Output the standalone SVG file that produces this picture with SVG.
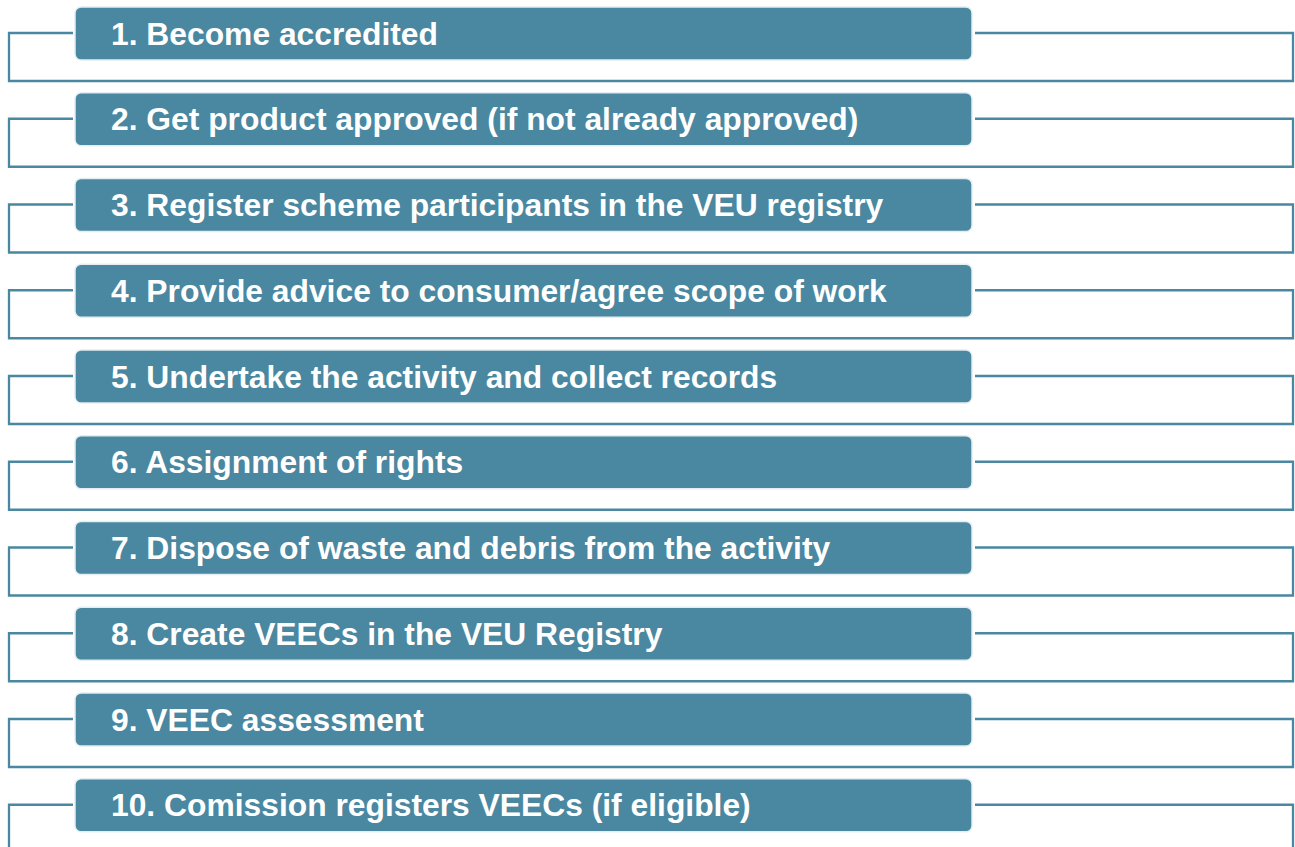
<svg xmlns="http://www.w3.org/2000/svg" width="1295" height="847" viewBox="0 0 1295 847">
<style>
.box{fill:#4A87A0;stroke:#E4EEF2;stroke-width:1.5}
.lbl{fill:#fff;font-family:"Liberation Sans",Arial,sans-serif;font-weight:bold;font-size:31.8px}
.con{fill:none;stroke:#4A87A0;stroke-width:2.3}
</style>
<rect width="1295" height="847" fill="#fff"/>
<g id="connectors">
<path class="con" d="M73,33H9V81H1293V33H975"/>
<path class="con" d="M73,118.75H9V166.75H1293V118.75H975"/>
<path class="con" d="M73,204.5H9V252.5H1293V204.5H975"/>
<path class="con" d="M73,290.25H9V338.25H1293V290.25H975"/>
<path class="con" d="M73,376H9V424H1293V376H975"/>
<path class="con" d="M73,461.75H9V509.75H1293V461.75H975"/>
<path class="con" d="M73,547.5H9V595.5H1293V547.5H975"/>
<path class="con" d="M73,633.25H9V681.25H1293V633.25H975"/>
<path class="con" d="M73,719H9V767H1293V719H975"/>
<path class="con" d="M73,804.75H9V852.75H1293V804.75H975"/>
</g>
<g id="step1"><rect class="box" x="75" y="7" width="897" height="53" rx="6"/><text class="lbl" x="111" y="44.5">1. Become accredited</text></g>
<g id="step2"><rect class="box" x="75" y="92.75" width="897" height="53" rx="6"/><text class="lbl" x="111" y="130.25">2. Get product approved (if not already approved)</text></g>
<g id="step3"><rect class="box" x="75" y="178.5" width="897" height="53" rx="6"/><text class="lbl" x="111" y="216">3. Register scheme participants in the VEU registry</text></g>
<g id="step4"><rect class="box" x="75" y="264.25" width="897" height="53" rx="6"/><text class="lbl" x="111" y="301.75">4. Provide advice to consumer/agree scope of work</text></g>
<g id="step5"><rect class="box" x="75" y="350" width="897" height="53" rx="6"/><text class="lbl" x="111" y="387.5">5. Undertake the activity and collect records</text></g>
<g id="step6"><rect class="box" x="75" y="435.75" width="897" height="53" rx="6"/><text class="lbl" x="111" y="473.25">6. Assignment of rights</text></g>
<g id="step7"><rect class="box" x="75" y="521.5" width="897" height="53" rx="6"/><text class="lbl" x="111" y="559">7. Dispose of waste and debris from the activity</text></g>
<g id="step8"><rect class="box" x="75" y="607.25" width="897" height="53" rx="6"/><text class="lbl" x="111" y="644.75">8. Create VEECs in the VEU Registry</text></g>
<g id="step9"><rect class="box" x="75" y="693" width="897" height="53" rx="6"/><text class="lbl" x="111" y="730.5">9. VEEC assessment</text></g>
<g id="step10"><rect class="box" x="75" y="778.75" width="897" height="53" rx="6"/><text class="lbl" x="111" y="816.25">10. Comission registers VEECs (if eligible)</text></g>
</svg>
